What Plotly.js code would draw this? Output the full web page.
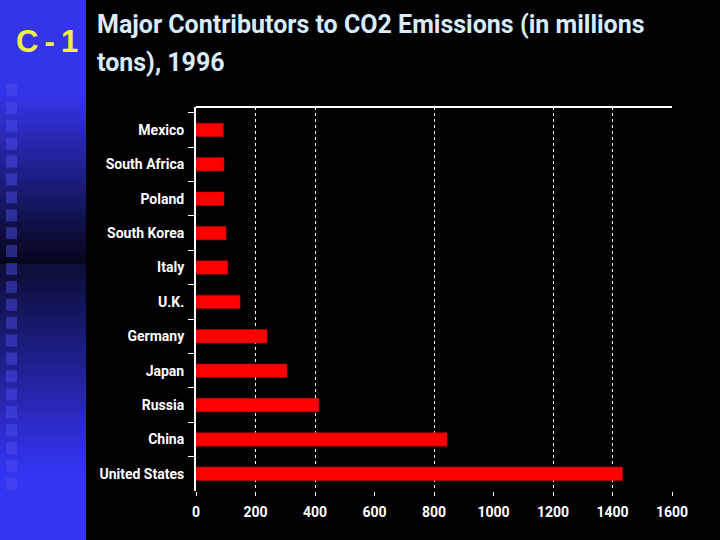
<!DOCTYPE html>
<html>
<head>
<meta charset="utf-8">
<script src="https://cdn.plot.ly/plotly-3.0.1.min.js"></script>
<style>
  html, body { margin: 0; padding: 0; background: #000; }
  #chart { width: 720px; height: 540px; }
</style>
</head>
<body>
<div id="chart"></div>
<script>
// ---- data ----
const countries = ["Mexico", "South Africa", "Poland", "South Korea", "Italy", "U.K.",
                   "Germany", "Japan", "Russia", "China", "United States"];
const emissions = [92, 94, 94, 101, 107, 148, 239, 306, 413, 844, 1434];
const xTickVals = [0, 200, 400, 600, 800, 1000, 1200, 1400, 1600];
const xTickText = ["0", "200", "400", "600", "800", "1000", "1200", "1400", "1600"];
const gridVals = [200, 400, 800, 1200, 1400, 1600];
const titleLines = ["Major Contributors to CO2 Emissions (in millions", "tons), 1996"];
const slideLabel = "C\u2009-\u20091";

// ---- layout geometry ----
const W = 720, H = 540;
const L = 196, R = 48, T = 107, B = 49;
const PW = W - L - R, PH = H - T - B;
const px2x = p => (p - L) / PW;
const py2y = p => (H - B - p) / PH;

const narrow = "Roboto, 'Liberation Sans', sans-serif";

// decorative left panel gradient
function lerp(a, b, t) { return a + (b - a) * t; }
function panelColor(y) {
  let c;
  if (y < 95) c = [52, 52, 232];
  else if (y < 265) { const t = (y - 95) / 170; c = [lerp(52, 5, t), lerp(52, 5, t), lerp(232, 22, t)]; }
  else if (y < 272) c = [14, 14, 58];
  else if (y < 470) { const t = (y - 272) / 198; c = [lerp(14, 52, t), lerp(14, 52, t), lerp(58, 240, t)]; }
  else c = [53, 53, 242];
  return `rgb(${Math.round(c[0])},${Math.round(c[1])},${Math.round(c[2])})`;
}
const shapes = [];
for (let y = 0; y < H; y += 3) {
  shapes.push({type: "rect", xref: "paper", yref: "paper", layer: "below",
    x0: px2x(0), x1: px2x(86), y0: py2y(y), y1: py2y(y + 3),
    line: {width: 0}, fillcolor: panelColor(y + 1.5)});
}
for (let y = 84; y < 482; y += 17.9) {
  shapes.push({type: "rect", xref: "paper", yref: "paper", layer: "below",
    x0: px2x(6), x1: px2x(17), y0: py2y(y), y1: py2y(y + 12),
    line: {width: 0}, fillcolor: "rgba(80,80,245,0.45)"});
}
// top border of plot box
shapes.push({type: "line", xref: "paper", yref: "paper", x0: 0, x1: 1, y0: 1, y1: 1,
  line: {color: "#ffffff", width: 2}});

const trace = {
  type: "bar",
  orientation: "h",
  y: countries,
  x: emissions,
  marker: {color: "#ff0000", line: {color: "#c00000", width: 0.5}},
  hoverinfo: "x+y"
};
// invisible helper trace for the second (grid-only) x axis
const gridTrace = {
  type: "scatter", mode: "markers", x: [0], y: [countries[0]], xaxis: "x2",
  marker: {opacity: 0}, hoverinfo: "skip", showlegend: false
};

const titleFont = {family: narrow, size: 25, color: "#d8ecff", weight: "bold"};

const layout = {
  width: W, height: H,
  margin: {l: L, r: R, t: T, b: B, pad: 0},
  paper_bgcolor: "#000000",
  plot_bgcolor: "rgba(0,0,0,0)",
  showlegend: false,
  bargap: 0.61,
  xaxis: {
    range: [0, 1600],
    tickvals: xTickVals, ticktext: xTickText,
    showgrid: false, zeroline: false, showline: false,
    ticks: "outside", ticklen: 4, tickwidth: 1, tickcolor: "#ffffff",
    ticklabelstandoff: 4,
    tickfont: {family: narrow, size: 14, color: "#ffffff", weight: "bold"},
    fixedrange: true
  },
  xaxis2: {
    overlaying: "x", range: [0, 1600], side: "bottom",
    tickvals: gridVals, showticklabels: false, ticks: "",
    showgrid: true, gridcolor: "#ffffff", gridwidth: 1, griddash: "dot",
    zeroline: false, showline: false, fixedrange: true
  },
  yaxis: {
    autorange: "reversed",
    type: "category",
    showline: true, linecolor: "#ffffff", linewidth: 2,
    ticks: "outside", tickson: "boundaries", ticklen: 6, tickcolor: "#ffffff",
    ticklabelstandoff: 7,
    showgrid: false, zeroline: false,
    tickfont: {family: narrow, size: 14, color: "#ffffff", weight: "bold"},
    fixedrange: true
  },
  shapes: shapes,
  annotations: [{
    text: titleLines[0], xref: "paper", yref: "paper",
    x: px2x(95), y: py2y(25), xanchor: "left", yanchor: "middle", align: "left",
    showarrow: false, font: titleFont
  }, {
    text: titleLines[1], xref: "paper", yref: "paper",
    x: px2x(95), y: py2y(62), xanchor: "left", yanchor: "middle", align: "left",
    showarrow: false, font: titleFont
  }, {
    text: slideLabel, xref: "paper", yref: "paper",
    x: px2x(47), y: py2y(41), xanchor: "center", yanchor: "middle",
    showarrow: false,
    font: {family: "'Liberation Sans', Arial, sans-serif", size: 31, color: "#f2ee44", weight: "bold"}
  }]
};

Plotly.newPlot("chart", [gridTrace, trace], layout, {displayModeBar: false, staticPlot: true});
</script>
</body>
</html>
